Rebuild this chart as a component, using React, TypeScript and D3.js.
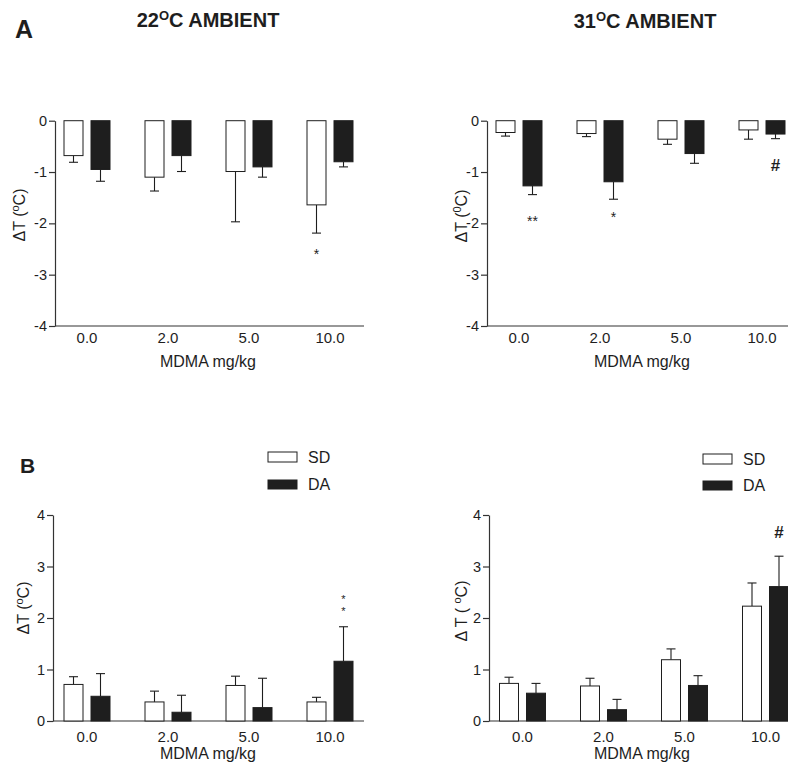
import React, { useEffect, useRef } from "react";
import * as d3 from "d3";

const doses = ["0.0", "2.0", "5.0", "10.0"];
const legendNames = ["SD", "DA"];

// Panel A, 22°C ambient
const sd22A = [-0.68, -1.1, -0.99, -1.64];
const sd22AErr = [0.13, 0.27, 0.98, 0.55];
const da22A = [-0.95, -0.68, -0.9, -0.8];
const da22AErr = [0.23, 0.31, 0.2, 0.1];
// Panel A, 31°C ambient
const sd31A = [-0.23, -0.25, -0.36, -0.18];
const sd31AErr = [0.07, 0.06, 0.1, 0.18];
const da31A = [-1.27, -1.19, -0.64, -0.26];
const da31AErr = [0.17, 0.34, 0.19, 0.09];
// Panel B, 22°C ambient
const sd22B = [0.71, 0.37, 0.69, 0.37];
const sd22BErr = [0.15, 0.21, 0.18, 0.09];
const da22B = [0.48, 0.17, 0.26, 1.16];
const da22BErr = [0.44, 0.33, 0.57, 0.67];
// Panel B, 31°C ambient
const sd31B = [0.73, 0.68, 1.19, 2.23];
const sd31BErr = [0.12, 0.15, 0.21, 0.45];
const da31B = [0.54, 0.22, 0.69, 2.61];
const da31BErr = [0.19, 0.2, 0.19, 0.59];

const ticksA = [-4, -3, -2, -1, 0];
const ticksB = [0, 1, 2, 3, 4];

type Note = { dose: string; series: string; value: number; lines: string[] };
const notes22A: Note[] = [{ dose: "10.0", series: "SD", value: -2.55, lines: ["*"] }];
const notes31A: Note[] = [
  { dose: "0.0", series: "DA", value: -1.89, lines: ["**"] },
  { dose: "2.0", series: "DA", value: -1.82, lines: ["*"] },
  { dose: "10.0", series: "DA", value: -0.86, lines: ["#"] },
];
const notes22B: Note[] = [{ dose: "10.0", series: "DA", value: 2.42, lines: ["*", "*"] }];
const notes31B: Note[] = [{ dose: "10.0", series: "DA", value: 3.67, lines: ["#"] }];

const FONT = "'Liberation Sans', Arial, Helvetica, sans-serif";
const INK = "#1e1e1e";

type PanelProps = {
  sd: number[];
  sdErr: number[];
  da: number[];
  daErr: number[];
  notes: Note[];
  ticks: number[];
  axisX: number;
  xEnd: number;
  yRange: [number, number];
  firstOffset: number;
  step: number;
  ylabel: React.ReactNode;
  ylabelX: number;
  ylabelY: number;
  xTickBase: number;
  xTitleBase: number;
  xTitleX: number;
};

function Panel(p: PanelProps) {
  const axisRef = useRef<SVGGElement>(null);
  const y = d3
    .scaleLinear()
    .domain([d3.min(p.ticks) as number, d3.max(p.ticks) as number])
    .range(p.yRange);
  const first = p.axisX + p.firstOffset;
  const x = d3
    .scalePoint<string>()
    .domain(doses)
    .range([first, first + p.step * (doses.length - 1)]);
  const barW = 19;
  const gap = 4;
  const minT = d3.min(p.ticks) as number;
  const baseVal = minT < 0 ? minT : 0;

  useEffect(() => {
    if (!axisRef.current) return;
    const g = d3.select(axisRef.current);
    g.selectAll("*").remove();
    g.call(
      d3
        .axisLeft(y)
        .tickValues(p.ticks)
        .tickSize(6)
        .tickSizeOuter(0)
        .tickPadding(2)
        .tickFormat((d) => String(d))
    );
    g.selectAll("path").attr("stroke", "#333").attr("stroke-width", 1.2);
    g.selectAll("line").attr("stroke", "#333").attr("stroke-width", 1.2);
    g.selectAll("text")
      .attr("font-family", FONT)
      .attr("font-size", 14.5)
      .attr("fill", INK);
  });

  const bars: React.ReactNode[] = [];
  doses.forEach((d, i) => {
    const c = x(d) as number;
    [
      { v: p.sd[i], e: p.sdErr[i], fill: "#fff", x0: c - gap - barW },
      { v: p.da[i], e: p.daErr[i], fill: INK, x0: c + gap },
    ].forEach((b, j) => {
      const y0 = y(0);
      const y1 = y(b.v);
      const yE = y(b.v + Math.sign(b.v) * b.e);
      const cx = b.x0 + barW / 2;
      bars.push(
        <g key={`${i}-${j}`}>
          <line x1={cx} x2={cx} y1={y1} y2={yE} stroke={INK} strokeWidth={1.1} />
          <line x1={cx - 4.5} x2={cx + 4.5} y1={yE} y2={yE} stroke={INK} strokeWidth={1.1} />
          <rect
            x={b.x0}
            y={Math.min(y0, y1)}
            width={barW}
            height={Math.abs(y1 - y0)}
            fill={b.fill}
            stroke={INK}
            strokeWidth={1}
          />
        </g>
      );
    });
  });

  return (
    <g>
      <line
        x1={p.axisX}
        x2={p.xEnd}
        y1={y(baseVal)}
        y2={y(baseVal)}
        stroke="#333"
        strokeWidth={1.2}
      />
      {bars}
      <g ref={axisRef} transform={`translate(${p.axisX},0)`} />
      {doses.map((d) => (
        <text
          key={d}
          x={x(d) as number}
          y={p.xTickBase}
          textAnchor="middle"
          fontFamily={FONT}
          fontSize={15}
          fill={INK}
        >
          {d}
        </text>
      ))}
      <text
        x={p.xTitleX}
        y={p.xTitleBase}
        textAnchor="middle"
        fontFamily={FONT}
        fontSize={16}
        fill={INK}
      >
        MDMA mg/kg
      </text>
      <text
        transform={`translate(${p.ylabelX},${p.ylabelY}) rotate(-90)`}
        textAnchor="middle"
        fontFamily={FONT}
        fontSize={16}
        fill={INK}
      >
        {p.ylabel}
      </text>
      {p.notes.flatMap((n, k) => {
        const c = x(n.dose) as number;
        const cx = n.series === "SD" ? c - gap - barW / 2 : c + gap + barW / 2;
        const isHash = n.lines[0] === "#";
        const stacked = n.lines.length > 1;
        const fs = isHash ? 17 : stacked ? 11 : 14;
        return n.lines.map((l, li) => (
          <text
            key={`${k}-${li}`}
            x={cx}
            y={y(n.value) + li * 12.5}
            dy={isHash ? "0.36em" : "0.56em"}
            textAnchor="middle"
            fontFamily={FONT}
            fontSize={fs}
            fontWeight={isHash ? "bold" : "normal"}
            fill={INK}
          >
            {l}
          </text>
        ));
      })}
    </g>
  );
}

function YLabel({ sup, spaced }: { sup: string; spaced?: boolean }) {
  return (
    <>
      <tspan>{spaced ? "\u0394 T ( " : "\u0394T ("}</tspan>
      <tspan fontSize={11} dy={-6}>
        {sup}
      </tspan>
      <tspan dy={6}>C)</tspan>
    </>
  );
}

function Legend({ x, y1, y2 }: { x: number; y1: number; y2: number }) {
  return (
    <g fontFamily={FONT} fontSize={16} fill={INK}>
      <rect x={x} y={y1} width={29} height={10} fill="#fff" stroke={INK} strokeWidth={1} />
      <text x={x + 40} y={y1 + 11}>
        {legendNames[0]}
      </text>
      <rect x={x} y={y2} width={29} height={9} fill={INK} stroke={INK} strokeWidth={1} />
      <text x={x + 40} y={y2 + 10}>
        {legendNames[1]}
      </text>
    </g>
  );
}

function Title({ x, y, temp }: { x: number; y: number; temp: string }) {
  return (
    <text x={x} y={y} textAnchor="middle" fontFamily={FONT} fontSize={20} fontWeight="bold" fill={INK}>
      <tspan>{temp}</tspan>
      <tspan fontSize={13} dy={-7}>
        O
      </tspan>
      <tspan dy={7}>C AMBIENT</tspan>
    </text>
  );
}

export default function App() {
  return (
    <svg
      width={788}
      height={763}
      style={{ position: "absolute", left: 0, top: 0, background: "#fff" }}
    >
      <text x={15} y={38} fontFamily={FONT} fontSize={25} fontWeight="bold" fill={INK}>
        A
      </text>
      <text x={20} y={473} fontFamily={FONT} fontSize={21} fontWeight="bold" fill={INK}>
        B
      </text>
      <Title x={208} y={27} temp="22" />
      <Title x={645} y={28} temp="31" />

      <Panel
        sd={sd22A}
        sdErr={sd22AErr}
        da={da22A}
        daErr={da22AErr}
        notes={notes22A}
        ticks={ticksA}
        axisX={55}
        xEnd={364}
        yRange={[326, 120.7]}
        firstOffset={32}
        step={81}
        ylabel={<YLabel sup="o" />}
        ylabelX={25}
        ylabelY={215}
        xTickBase={343}
        xTitleBase={367}
        xTitleX={208}
      />
      <Panel
        sd={sd31A}
        sdErr={sd31AErr}
        da={da31A}
        daErr={da31AErr}
        notes={notes31A}
        ticks={ticksA}
        axisX={487}
        xEnd={800}
        yRange={[326, 120.7]}
        firstOffset={32}
        step={81}
        ylabel={<YLabel sup="0" />}
        ylabelX={467}
        ylabelY={216}
        xTickBase={343}
        xTitleBase={367}
        xTitleX={642}
      />
      <Panel
        sd={sd22B}
        sdErr={sd22BErr}
        da={da22B}
        daErr={da22BErr}
        notes={notes22B}
        ticks={ticksB}
        axisX={53}
        xEnd={364}
        yRange={[721, 515]}
        firstOffset={34}
        step={81}
        ylabel={<YLabel sup="o" />}
        ylabelX={29}
        ylabelY={608}
        xTickBase={742}
        xTitleBase={759}
        xTitleX={208}
      />
      <Panel
        sd={sd31B}
        sdErr={sd31BErr}
        da={da31B}
        daErr={da31BErr}
        notes={notes31B}
        ticks={ticksB}
        axisX={489}
        xEnd={800}
        yRange={[721, 515]}
        firstOffset={33.5}
        step={81}
        ylabel={<YLabel sup="o" spaced />}
        ylabelX={467}
        ylabelY={611}
        xTickBase={742}
        xTitleBase={759}
        xTitleX={642}
      />
      <Legend x={268} y1={452} y2={480} />
      <Legend x={703} y1={454} y2={481} />
    </svg>
  );
}
